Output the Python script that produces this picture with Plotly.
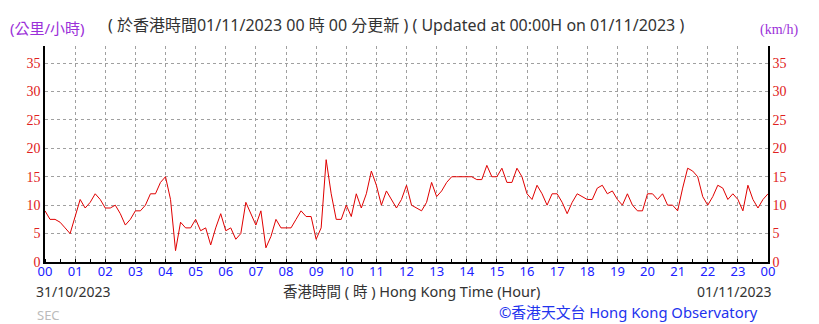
import plotly.graph_objects as go

# 10-minute readings, 00:00 31/10 to 00:00 01/11 (hours)
hours = [i / 6 for i in range(145)]
speed = [
    9, 7.5, 7.5, 7, 6, 5, 8, 11, 9.5, 10.5, 12, 11,
    9.5, 9.5, 10, 8.5, 6.5, 7.5, 9, 9, 10, 12, 12, 14,
    15, 11, 2, 7, 6, 6, 7.5, 5.5, 6, 3, 6, 8.5,
    5.5, 6, 4, 5, 10.5, 8.5, 6.5, 9, 2.5, 4.5, 7.5, 6,
    6, 6, 7.5, 9, 8, 8, 4, 6, 18, 12, 7.5, 7.5,
    10, 8, 12, 9.5, 12, 16, 13.5, 10, 12.5, 11, 9.5, 11,
    13.5, 10, 9.5, 9, 10.5, 14, 11.5, 12.5, 14, 15, 15, 15,
    15, 15, 14.5, 14.5, 17, 15, 15, 16.5, 14, 14, 16.5, 15,
    12, 11, 13.5, 12, 10, 12, 12, 10.5, 8.5, 10.5, 12, 11.5,
    11, 11, 13, 13.5, 12, 12.5, 11, 10, 12, 10, 9, 9,
    12, 12, 11, 12, 10, 10, 9, 13, 16.5, 16, 15, 11.5,
    10, 11.5, 13.5, 13, 11, 12, 11, 9, 13.5, 11, 9.5, 11,
    12,
]
x_tickvals = list(range(25))
x_ticktext = ["%02d" % (h % 24) for h in range(25)]
y_tickvals = [0, 5, 10, 15, 20, 25, 30, 35]

fig = go.Figure()
fig.add_trace(go.Scatter(x=hours, y=speed, mode="lines",
                         line=dict(color="#e00000", width=1), hoverinfo="skip"))
# invisible trace for right axis
fig.add_trace(go.Scatter(x=[0], y=[0], yaxis="y2", mode="markers",
                         marker=dict(opacity=0), hoverinfo="skip"))

serif = "Liberation Serif, serif"
sans = "Noto Sans, Noto Sans CJK TC, sans-serif"

fig.update_layout(
    width=819, height=324,
    margin=dict(l=45, r=51, t=46, b=62),
    paper_bgcolor="white", plot_bgcolor="white",
    showlegend=False,
    xaxis=dict(range=[0, 24], tickvals=x_tickvals, ticktext=x_ticktext,
               showgrid=True, gridcolor="#a0a0a0", griddash="dot", gridwidth=1,
               showline=True, linecolor="black", linewidth=1.5,
               ticks="", ticklabelstandoff=-3,
               tickfont=dict(family=sans, size=13, color="#2020ff"),
               minor=dict(dtick=0.5, ticks="inside", ticklen=3, tickcolor="black", showgrid=False),
               zeroline=False, fixedrange=True),
    yaxis=dict(range=[0, 38], tickvals=y_tickvals,
               showgrid=True, gridcolor="#a0a0a0", griddash="dot", gridwidth=1,
               showline=True, linecolor="black", linewidth=1.5,
               ticks="", tickfont=dict(family=serif, size=14, color="#e02020"),
               zeroline=False, fixedrange=True),
    yaxis2=dict(range=[0, 38], tickvals=y_tickvals, overlaying="y", side="right",
                showgrid=False, showline=True, linecolor="black", linewidth=1.5,
                ticks="", tickfont=dict(family=serif, size=14, color="#e02020"),
                zeroline=False, fixedrange=True),
)

def note(x, y, text, size, color, family=sans, xanchor="left"):
    fig.add_annotation(x=x, y=y, xref="paper", yref="paper", text=text,
                       showarrow=False, xanchor=xanchor, yanchor="middle",
                       font=dict(family=family, size=size, color=color))

def px(xp, yp):
    # convert pixel coords to paper coords
    return (xp - 45) / (819 - 45 - 51), (324 - 62 - yp) / (324 - 46 - 62)

x, y = px(8, 28); note(x, y, "(公里/小時)", 15, "#9b30d9")
x, y = px(106, 25); note(x, y, "( 於香港時間01/11/2023 00 時 00 分更新 ) ( Updated at 00:00H on 01/11/2023 )", 16, "#333333")
x, y = px(758, 30); note(x, y, "(km/h)", 14, "#9b30d9", family=serif)
x, y = px(34, 291); note(x, y, "31/10/2023", 14, "#333333")
x, y = px(411, 291); note(x, y, "香港時間 ( 時 ) Hong Kong Time (Hour)", 14.5, "#333333", xanchor="center")
x, y = px(773, 291); note(x, y, "01/11/2023", 14, "#333333", xanchor="right")
x, y = px(35, 315); note(x, y, "SEC", 13, "#bbbbbb")
x, y = px(760, 312); note(x, y, "©香港天文台 Hong Kong Observatory", 14.8, "#2233ee", xanchor="right")

fig.write_html("out.html")
